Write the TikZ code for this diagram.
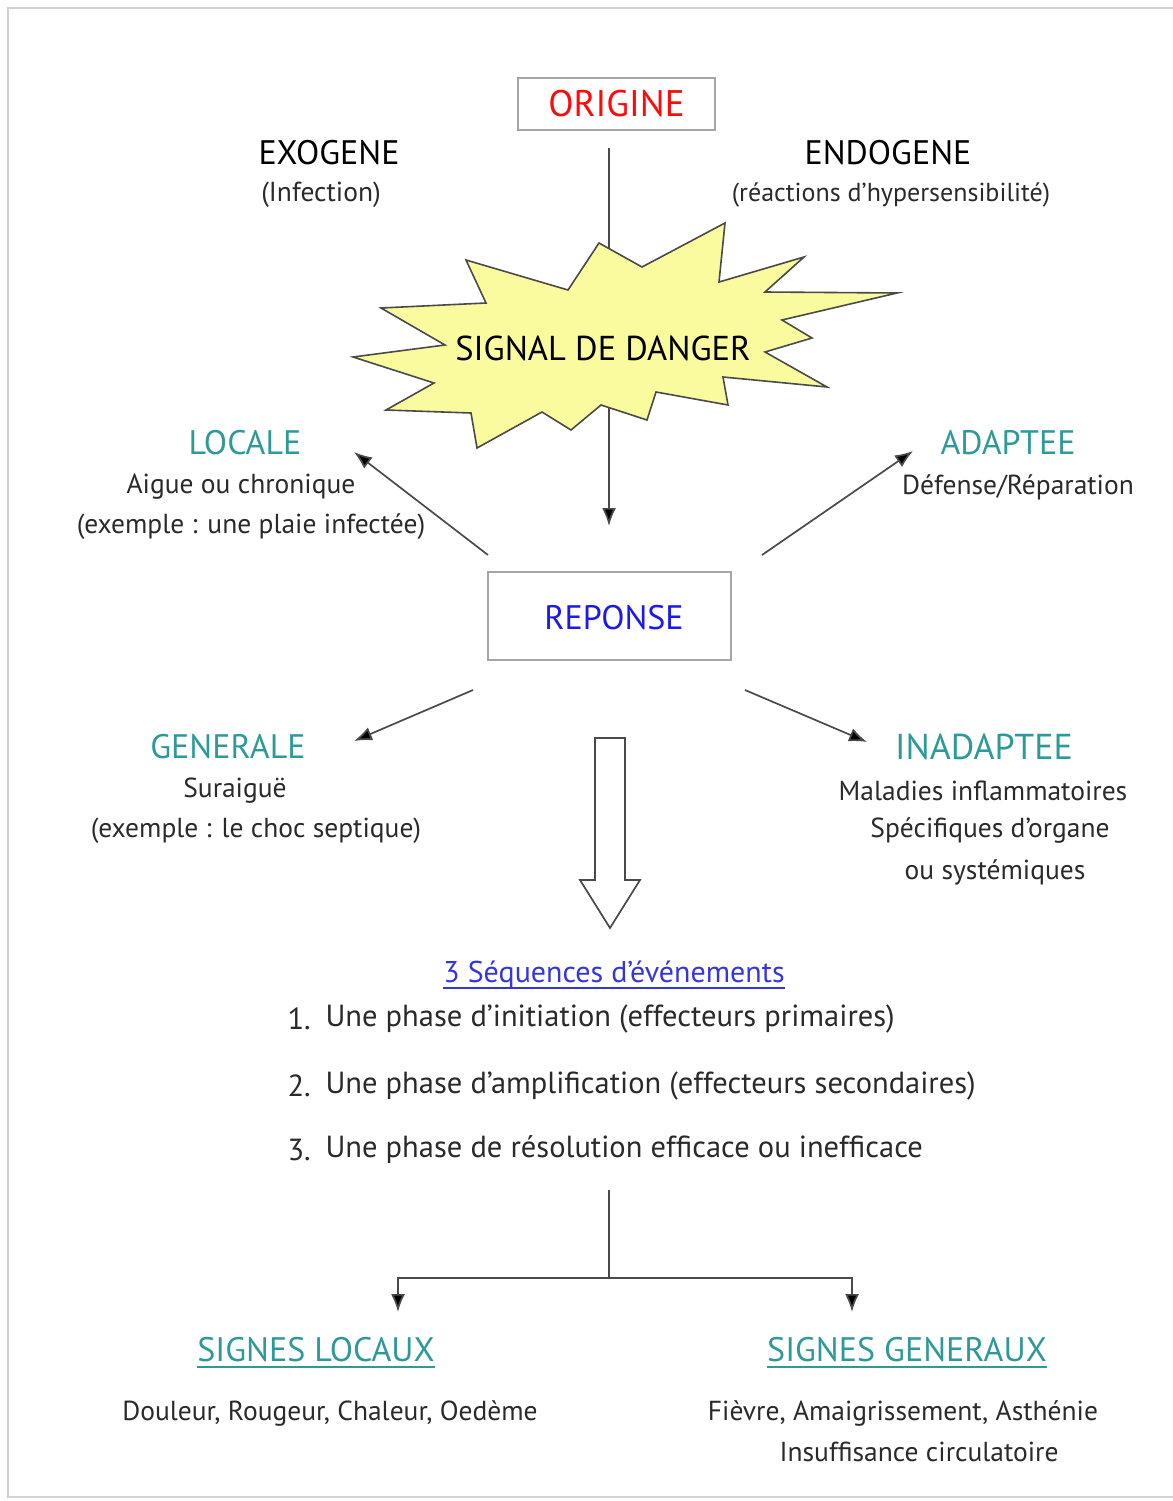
\documentclass[tikz,border=0pt]{standalone}
\usepackage{fontspec}
\setmainfont{PT Sans}
\usetikzlibrary{arrows.meta}
\definecolor{tealtxt}{HTML}{2E9A98}
\definecolor{origred}{HTML}{FF0A0A}
\definecolor{repblue}{HTML}{1A1AF0}
\definecolor{seqblue}{HTML}{3535E0}
\definecolor{starfill}{HTML}{FAFA9E}
\definecolor{inkgray}{HTML}{2A2A2A}

\begin{document}
\begin{tikzpicture}[x=1pt,y=-1pt]
\tikzstyle{cadre}=[rectangle,draw=gray!70,line width=1.5pt]
\tikzstyle{titre}=[font=\fontsize{34}{40}\selectfont]
\tikzstyle{txt}=[font=\fontsize{27.5}{32}\selectfont,text=inkgray]
\tikzstyle{seq}=[font=\fontsize{30.5}{36}\selectfont,text=inkgray,anchor=west]
\tikzstyle{fl}=[draw=inkgray!85,line width=1.7pt,-{Latex[length=18pt,width=14pt,fill=black]}]
\tikzstyle{trait}=[draw=inkgray!85,line width=1.7pt]
\useasboundingbox (0,0) rectangle (1172,1501);
\draw[gray!35,line width=2pt] (1180,8) -- (8,8) -- (8,1497) -- (1180,1497);
\node [cadre,titre,text=origred,font=\fontsize{37}{42}\selectfont,minimum width=197pt,minimum height=52pt] (orig) at (616.5,104) {ORIGINE};
\node [titre] (exo) at (329,153) {EXOGENE};
\node [txt] (exoa) at (321,195) {(Infection)};
\node [titre] (endo) at (888,153) {ENDOGENE};
\node [txt,font=\fontsize{26}{30}\selectfont] (endoa) at (891,195) {(réactions d'hypersensibilité)};
\coordinate (o1) at (609,148);
\coordinate (o2) at (609,526);
\draw [fl] (o1) -- (o2);
\filldraw [fill=starfill,draw=inkgray!85,line width=1.6pt] (725,223) -- (719,282) -- (804,257) -- (765,292) -- (897,293) -- (782,320) -- (812,338) -- (765,352) -- (827,387) -- (723,377) -- (728,405) -- (656,392) -- (647,420) -- (601,405) -- (571,430) -- (542,412) -- (477,448) -- (471,413) -- (386,410) -- (434,383) -- (353,357) -- (445,345) -- (381,308) -- (486,303) -- (466,260) -- (568,290) -- (599,243) -- (642,267) -- cycle;
\node [font=\fontsize{34.5}{40}\selectfont] (sig) at (603,348) {SIGNAL DE DANGER};
\node [titre,text=tealtxt] (loc) at (245,443) {LOCALE};
\node [txt] (loca) at (241,487) {Aigue ou chronique};
\node [txt] (locb) at (251,527) {(exemple : une plaie infectée)};
\node [titre,text=tealtxt] (ada) at (1008,443) {ADAPTEE};
\node [txt] (adaa) at (1018,487) {Défense/Réparation};
\node [cadre,minimum width=243pt,minimum height=88pt] (rep) at (609.5,616) {};
\node [titre,text=repblue] (rept) at (614,618) {REPONSE};
\coordinate (la) at (488,555);
\coordinate (lb) at (354,452);
\coordinate (aa) at (762,555);
\coordinate (ab) at (913,451);
\coordinate (ga) at (473,690);
\coordinate (gb) at (354,741);
\coordinate (ia) at (745,690);
\coordinate (ib) at (867,742);
\draw [fl] (la) -- (lb);
\draw [fl] (aa) -- (ab);
\draw [fl] (ga) -- (gb);
\draw [fl] (ia) -- (ib);
\node [titre,text=tealtxt] (gen) at (228,747) {GENERALE};
\node [txt] (gena) at (235,791) {Suraiguë};
\node [txt] (genb) at (256,831) {(exemple : le choc septique)};
\node [titre,text=tealtxt,font=\fontsize{36}{42}\selectfont] (ina) at (984,747) {INADAPTEE};
\node [txt] (inaa) at (983,791) {Maladies inflammatoires};
\node [txt] (inab) at (990,831) {Spécifiques d'organe};
\node [txt] (inac) at (995,872) {ou systémiques};
\draw [trait,fill=white] (595,738) -- (625,738) -- (625,880) -- (640,880) -- (610,928) -- (580,880) -- (595,880) -- cycle;
\node [font=\fontsize{30}{35}\selectfont,text=seqblue,inner sep=0pt] (seqt) at (614,975) {3 Séquences d'événements};
\draw [seqblue,line width=2pt] ([yshift=-5pt]seqt.base west) -- ([yshift=-5pt]seqt.base east);
\node [seq] (n1) at (284,1019) {1.};
\node [seq] (s1) at (322,1019) {Une phase d'initiation (effecteurs primaires)};
\node [seq] (n2) at (284,1086) {2.};
\node [seq] (s2) at (322,1086) {Une phase d'amplification (effecteurs secondaires)};
\node [seq] (n3) at (284,1150) {3.};
\node [seq] (s3) at (322,1150) {Une phase de résolution efficace ou inefficace};
\coordinate (t0) at (609,1190);
\coordinate (t1) at (609,1278);
\coordinate (tl) at (398,1312);
\coordinate (tr) at (852,1312);
\draw [trait] (t0) -- (t1);
\draw [fl] (t1) -| (tl);
\draw [fl] (t1) -| (tr);
\node [titre,text=tealtxt,inner sep=0pt] (sloc) at (316,1350) {SIGNES LOCAUX};
\draw [tealtxt,line width=2.5pt] ([yshift=-5pt]sloc.base west) -- ([yshift=-5pt]sloc.base east);
\node [txt] (sloca) at (330,1413) {Douleur, Rougeur, Chaleur, Oedème};
\node [titre,text=tealtxt,inner sep=0pt] (sgen) at (907,1350) {SIGNES GENERAUX};
\draw [tealtxt,line width=2.5pt] ([yshift=-5pt]sgen.base west) -- ([yshift=-5pt]sgen.base east);
\node [txt] (sgena) at (903,1413) {Fièvre, Amaigrissement, Asthénie};
\node [txt] (sgenb) at (919,1452) {Insuffisance circulatoire};
\end{tikzpicture}
\end{document}
